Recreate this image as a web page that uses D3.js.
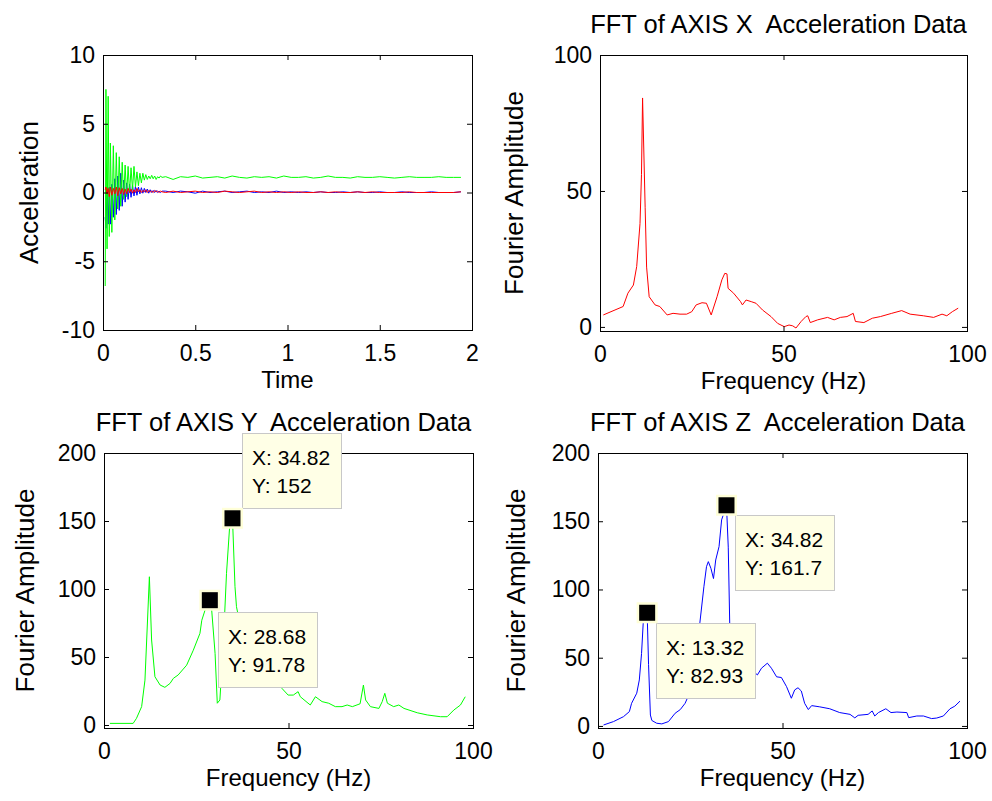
<!DOCTYPE html>
<html>
<head>
<meta charset="utf-8">
<script src="https://cdn.jsdelivr.net/npm/d3@7"></script>
<style>
  html, body { margin: 0; padding: 0; background: #fff; }
  svg text { font-family: "Liberation Sans", Arial, Helvetica, sans-serif; fill: #000; }
</style>
</head>
<body>
<svg id="fig" width="992" height="801"></svg>
<script>
// ---- Time-domain acceleration (s, and three axes) ----
const timeS = [0.012,0.016,0.022,0.028,0.034,0.04,0.048,0.056,0.064,0.072,0.08,0.088,0.096,0.104,0.112,0.12,0.128,0.136,0.144,0.152,0.16,0.168,0.176,0.184,0.192,0.2,0.208,0.216,0.224,0.232,0.24,0.248,0.256,0.264,0.272,0.28,0.288,0.296,0.304,0.312,0.32,
  0.34,0.38,0.42,0.46,0.5,0.54,0.58,0.62,0.66,0.7,0.74,0.78,0.82,0.86,0.9,0.94,0.98,1.02,1.06,1.1,1.14,1.18,1.22,1.26,1.3,1.34,1.38,1.42,1.46,1.5,1.54,1.58,1.62,1.66,1.7,1.74,1.78,1.82,1.86,1.9,1.94];
const accX = [0.2,0.4,-0.1,0.3,-0.3,0.4,-0.2,0.3,-0.1,0.4,-0.25,0.35,-0.1,0.3,-0.15,0.25,-0.1,0.3,0.0,0.25,-0.05,0.2,0.0,0.3,0.05,0.2,0.0,0.15,0.05,0.2,0.0,0.15,0.05,0.1,0.0,0.15,0.05,0.1,0.0,0.1,0.05,
  0.0,0.1,0.0,0.05,0.1,0.0,0.05,0.0,0.1,0.05,0.0,0.05,0.1,0.0,0.05,0.0,0.05,0.0,0.05,0.0,0.0,0.05,0.0,0.05,0.0,0.0,0.05,0.0,0.05,0.0,0.0,0.0,0.0,0.05,0.0,0.0,0.0,0.0,0.0,0.0,0.05];
const accY = [-6.8,7.5,-4.1,7.0,-3.2,3.6,-2.9,3.4,-2.0,2.9,-1.2,2.6,-1.0,2.2,-0.5,2.0,-0.3,1.9,0.0,1.8,0.2,1.9,0.4,1.5,0.5,1.4,0.7,1.4,0.9,1.3,0.95,1.2,1.0,1.25,1.0,1.2,0.95,1.15,1.05,1.2,1.1,
  1.15,0.95,1.15,1.1,1.2,1.05,1.1,1.15,1.05,1.2,1.1,1.05,1.15,1.1,1.15,1.05,1.2,1.1,1.1,1.15,1.05,1.1,1.2,1.1,1.1,1.05,1.15,1.1,1.1,1.15,1.1,1.05,1.1,1.15,1.1,1.1,1.1,1.15,1.1,1.1,1.1];
const accZ = [-1.8,-2.6,0.2,-2.3,0.4,-2.3,0.6,-1.8,1.0,-1.6,1.2,-1.3,1.4,-1.0,0.9,-0.7,0.7,-0.5,0.6,-0.35,0.5,-0.25,0.45,-0.2,0.4,-0.1,0.35,-0.05,0.3,0.0,0.25,-0.05,0.2,0.0,0.15,0.0,0.15,0.0,0.1,0.0,0.1,
  0.1,0.0,0.1,0.05,-0.05,0.1,0.0,0.05,0.1,0.0,0.05,0.1,0.0,0.05,0.0,0.1,0.0,0.05,0.0,0.05,0.0,0.05,0.0,0.0,0.05,0.0,0.05,0.0,0.0,0.05,0.0,0.0,0.05,0.0,0.0,0.0,0.05,0.0,0.0,0.0,0.05];

// ---- FFT spectra (Hz, Fourier amplitude) ----
const freqX = [0.9,6.3,7.6,9.1,10.0,10.9,11.3,11.6,12.3,12.7,13.4,15.0,16.3,18.3,19.9,21.8,23.6,25.0,26.2,27.8,29.0,30.3,31.9,33.2,34.0,34.6,34.9,36.4,38.3,38.8,39.8,41.2,42.5,44.3,46.6,48.4,50.2,51.5,52.5,53.4,54.8,56.1,56.6,57.3,59.3,62.0,63.8,65.5,67.3,69.0,69.6,71.9,74.2,76.4,79.5,82.2,84.5,88.1,90.9,93.2,94.5,96.0,97.6];
const ampX  = [4.4,7.5,12.4,15.4,22.2,38,56,84.2,44,22,11.1,8.1,7.5,4.4,5.0,4.7,4.7,5.6,8.1,8.9,8.7,4.4,11.1,17.3,19.7,19.5,14.2,12.4,9.3,8.1,9.9,9.3,8.7,6.2,3.8,1.3,0.1,0.7,0.4,-0.4,2.0,3.8,4.1,1.6,2.6,3.5,2.6,3.5,3.8,5.0,2.0,1.6,3.2,3.8,5.0,6.0,4.7,4.1,3.5,4.7,4.1,5.6,6.9];

const freqY = [1.6,7.9,8.8,10.2,11.1,12.3,12.9,13.8,15.2,16.5,17.9,18.8,20.1,22.4,24.2,26.0,26.5,27.4,28.68,29.2,30.1,30.7,31.4,32.3,33.2,34.1,34.82,35.5,35.9,37.5,40.0,43.0,46.0,48.2,49.9,51.3,52.6,53.2,55.9,57.3,59.1,60.9,62.7,64.5,65.9,67.3,69.4,70.3,70.9,72.2,74.5,75.4,76.1,76.8,78.5,79.9,81.3,84.9,87.6,91.2,93.0,94.8,96.6,97.9];
const ampY  = [1.2,1.2,4.9,13.5,33,109,62.5,35.5,29.4,27.7,30.6,34.3,36.8,44,55,67.4,77,84.6,91.78,84,52.7,16,18.4,57.6,111.5,148,152,101.7,87,65,50,40,34,27,22,22,24.5,20.8,14.7,20.8,17.2,16,13.5,13.5,14.7,13.5,15.6,29.4,18.4,13.5,12.2,17.2,23.3,16,13.5,14.7,12.2,9,7.4,6.1,6.1,11,14.7,20.8];

const freqZ = [1.5,4.2,6.9,8.5,9.1,10.5,11.2,11.8,12.3,13.32,13.7,14.2,14.6,15.9,17.3,19.1,20.9,22.3,23.6,25.0,26.4,27.6,28.7,29.4,29.9,30.6,31.3,31.9,32.8,33.5,34.82,35.3,35.7,37.5,40.0,43.2,44.3,45.9,47.0,48.4,49.7,51.1,52.4,53.3,54.2,55.1,56.0,57.0,57.9,60.1,62.8,65.5,68.3,69.6,70.5,73.2,74.3,75.0,76.0,78.0,79.4,81.0,83.7,84.2,86.4,88.2,90.4,91.8,93.6,95.4,96.7,98.1];
const ampZ  = [0.7,3.2,6.8,10.5,16.6,24,33.7,53,77.7,82.93,45,8,4,2,1.5,3.2,9.3,12,16.6,25,45,75.5,102,116.7,120.4,115.5,108,121.6,131.4,151,161.7,131,75,55,45,37.4,42.3,46,42.3,36,35.5,28.8,20.3,26.4,28,25.6,16.6,12,14.9,14,12.6,9.8,8.5,5.9,7.8,8.5,11,7.3,9.8,12.6,9.8,10.2,9.8,6.1,7.3,7.3,5.4,5.8,7.3,12.6,14.5,18.2];

// ---- Data-tip readouts ----
const tipFreqY = [34.82, 28.68];
const tipAmpY  = [152, 91.78];
const tipFreqZ = [34.82, 13.32];
const tipAmpZ  = [161.7, 82.93];

// ---- Tick values ----
const timeTicks  = [0, 0.5, 1, 1.5, 2];
const accelTicks = [-10, -5, 0, 5, 10];
const freqTicks  = [0, 50, 100];
const ampTicksX  = [0, 50, 100];
const ampTicksYZ = [0, 50, 100, 150, 200];

const svg = d3.select("#fig");
const FONT = '"Liberation Sans", Arial, Helvetica, sans-serif';
const TICK_FS = 23;
const XLABEL_FS = 24;
const YLABEL_FS = 26;
const TITLE_FS = 25.5;

function drawPanel(cfg) {
  const g = svg.append("g");
  const x = d3.scaleLinear().domain(cfg.xDomain).range([cfg.x0, cfg.x1]);
  const y = d3.scaleLinear().domain(cfg.yDomain).range([cfg.y1, cfg.y0]);

  const clipId = "clip-" + cfg.key;
  svg.append("clipPath").attr("id", clipId).append("rect")
    .attr("x", cfg.x0).attr("y", cfg.y0)
    .attr("width", cfg.x1 - cfg.x0).attr("height", cfg.y1 - cfg.y0);

  const line = d3.line().x(d => x(d[0])).y(d => y(d[1]));
  const plot = g.append("g").attr("clip-path", `url(#${clipId})`);
  cfg.series.forEach(s => {
    plot.append("path")
      .datum(d3.zip(s.xs, s.ys))
      .attr("d", line)
      .attr("fill", "none")
      .attr("stroke", s.color)
      .attr("stroke-width", 1)
      .attr("stroke-linejoin", "round");
  });

  const fmt = d => String(d);
  const styleAxis = a => {
    a.select(".domain").remove();
    a.attr("font-size", TICK_FS).attr("font-family", FONT);
    a.selectAll("line").attr("stroke", "#000");
  };
  g.append("g").attr("transform", `translate(0,${cfg.y1})`)
    .call(d3.axisBottom(x).tickValues(cfg.xTicks).tickFormat(fmt).tickSize(-5).tickPadding(15))
    .call(styleAxis);
  g.append("g").attr("transform", `translate(0,${cfg.y0})`)
    .call(d3.axisTop(x).tickValues(cfg.xTicks).tickFormat("").tickSize(-5))
    .call(styleAxis);
  g.append("g").attr("transform", `translate(${cfg.x0},0)`)
    .call(d3.axisLeft(y).tickValues(cfg.yTicks).tickFormat(fmt).tickSize(-5).tickPadding(8))
    .call(styleAxis);
  g.append("g").attr("transform", `translate(${cfg.x1},0)`)
    .call(d3.axisRight(y).tickValues(cfg.yTicks).tickFormat("").tickSize(-5))
    .call(styleAxis);

  g.append("rect")
    .attr("x", cfg.x0 + 0.5).attr("y", cfg.y0 + 0.5)
    .attr("width", cfg.x1 - cfg.x0).attr("height", cfg.y1 - cfg.y0)
    .attr("fill", "none").attr("stroke", "#000").attr("stroke-width", 1);

  // axis labels and title
  g.append("text")
    .attr("x", (cfg.x0 + cfg.x1) / 2).attr("y", cfg.y1 + cfg.xLabelDy)
    .attr("text-anchor", "middle").attr("font-size", XLABEL_FS)
    .text(cfg.xLabel);
  g.append("text")
    .attr("transform", `translate(${cfg.yLabelX},${(cfg.y0 + cfg.y1) / 2}) rotate(-90)`)
    .attr("text-anchor", "middle").attr("font-size", YLABEL_FS)
    .text(cfg.yLabel);
  if (cfg.title) {
    g.append("text")
      .attr("x", (cfg.x0 + cfg.x1) / 2 - 5).attr("y", cfg.y0 - 22)
      .attr("text-anchor", "middle").attr("font-size", TITLE_FS)
      .style("white-space", "pre")
      .text(cfg.title);
  }

  // data tips
  if (cfg.tips) {
    cfg.tips.forEach(t => {
      const cx = x(t.fx), cy = y(t.amp);
      const bx = cx + t.dx, by = cy + t.dy;
      const tg = g.append("g");
      const box = tg.append("rect")
        .attr("x", Math.round(bx) + 0.5).attr("y", Math.round(by) + 0.5)
        .attr("height", 75)
        .attr("fill", "#ffffe6").attr("stroke", "#c8c8c8").attr("stroke-width", 1);
      const lines = [`X: ${t.fx}`, `Y: ${t.amp}`];
      let maxW = 0;
      lines.forEach((s, i) => {
        const tx = tg.append("text")
          .attr("x", Math.round(bx) + 10).attr("y", Math.round(by) + 32 + i * 28)
          .attr("font-size", 21)
          .text(s);
        maxW = Math.max(maxW, tx.node().getComputedTextLength());
      });
      box.attr("width", Math.round(maxW + 21));
      tg.append("rect")
        .attr("x", cx - 10.5).attr("y", cy - 10.5).attr("width", 21).attr("height", 21)
        .attr("fill", "#ffffd8");
      tg.append("rect")
        .attr("x", cx - 8).attr("y", cy - 8).attr("width", 16).attr("height", 16)
        .attr("fill", "#000");
    });
  }
}

// Time history of the three acceleration axes
drawPanel({
  key: "time", x0: 103, x1: 472, y0: 55, y1: 330,
  xDomain: [0, 2], yDomain: [-10, 10],
  xTicks: timeTicks, yTicks: accelTicks,
  xLabel: "Time", yLabel: "Acceleration", xLabelDy: 58, yLabelX: 38,
  series: [
    { xs: timeS, ys: accZ, color: "#0000ff" },
    { xs: timeS, ys: accY, color: "#00ff00" },
    { xs: timeS, ys: accX, color: "#ff0000" }
  ]
});

// FFT of X axis
drawPanel({
  key: "fftx", x0: 600, x1: 967, y0: 55, y1: 331,
  xDomain: [0, 100], yDomain: [-1.5, 100],
  xTicks: freqTicks, yTicks: ampTicksX,
  xLabel: "Frequency (Hz)", yLabel: "Fourier Amplitude", xLabelDy: 58, yLabelX: 523,
  title: "FFT of AXIS X  Acceleration Data",
  series: [{ xs: freqX, ys: ampX, color: "#ff0000" }]
});

// FFT of Y axis
drawPanel({
  key: "ffty", x0: 104, x1: 473, y0: 453, y1: 728,
  xDomain: [0, 100], yDomain: [-2.2, 200],
  xTicks: freqTicks, yTicks: ampTicksYZ,
  xLabel: "Frequency (Hz)", yLabel: "Fourier Amplitude", xLabelDy: 58, yLabelX: 34,
  title: "FFT of AXIS Y  Acceleration Data",
  series: [{ xs: freqY, ys: ampY, color: "#00ff00" }],
  tips: [
    { fx: tipFreqY[0], amp: tipAmpY[0], dx: 9.5, dy: -85 },
    { fx: tipFreqY[1], amp: tipAmpY[1], dx: 8, dy: 12 }
  ]
});

// FFT of Z axis
drawPanel({
  key: "fftz", x0: 598, x1: 967, y0: 453, y1: 728,
  xDomain: [0, 100], yDomain: [-1.5, 200],
  xTicks: freqTicks, yTicks: ampTicksYZ,
  xLabel: "Frequency (Hz)", yLabel: "Fourier Amplitude", xLabelDy: 58, yLabelX: 525,
  title: "FFT of AXIS Z  Acceleration Data",
  series: [{ xs: freqZ, ys: ampZ, color: "#0000ff" }],
  tips: [
    { fx: tipFreqZ[0], amp: tipAmpZ[0], dx: 8.5, dy: 10 },
    { fx: tipFreqZ[1], amp: tipAmpZ[1], dx: 9, dy: 10 }
  ]
});
</script>
</body>
</html>
